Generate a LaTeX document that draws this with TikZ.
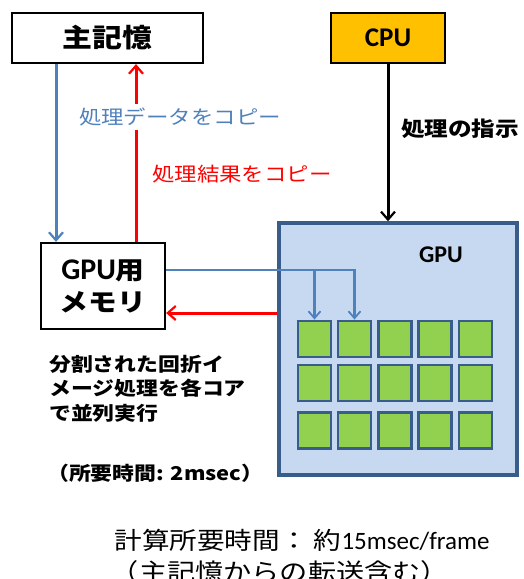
\documentclass[tikz,border=0pt]{standalone}
\usepackage{fontspec}
\setmainfont{Noto Sans CJK JP}[FakeStretch=1.15,Kerning=Off]
\newfontfamily\calfont{Carlito}
\usetikzlibrary{arrows.meta}
\definecolor{obl}{HTML}{4F81BD}
\definecolor{gpuf}{HTML}{C6D9F1}
\definecolor{gpub}{HTML}{385D8A}
\definecolor{corf}{HTML}{92D050}
\definecolor{cpuf}{HTML}{FFC000}
\definecolor{rd}{HTML}{FF0000}
\begin{document}
\begin{tikzpicture}[x=1pt,y=1pt,
  box/.style={draw=black,line width=2.2pt,fill=white,inner sep=0pt},
  core/.style={draw=gpub,line width=2.8pt,fill=corf,minimum width=33pt,minimum height=36pt,inner sep=0pt},
  arr/.style={-{Straight Barb[length=8pt,width=14pt,line width=2.2pt]},line width=3pt},
  thinarr/.style={-{Straight Barb[length=7pt,width=12pt,line width=1.8pt]},line width=2.2pt},
  lbl/.style={inner sep=1pt}
  ]
\useasboundingbox (0,0) rectangle (523,-579);
% boxes
\node[box,minimum width=191pt,minimum height=50pt,font=\fontsize{26}{30}\selectfont\bfseries] (mm) at (107.5,-38) {主記憶};
\node[box,fill=cpuf,minimum width=114pt,minimum height=50pt,font=\fontsize{27}{30}\selectfont\calfont\bfseries] (cpu) at (388,-38) {CPU};
\node[draw=gpub,line width=3.5pt,fill=gpuf,minimum width=238pt,minimum height=252pt,inner sep=0pt] (gpu) at (398,-349) {};
\node[lbl,font=\fontsize{24}{28}\selectfont\calfont\bfseries] (gpulbl) at (441,-255) {GPU};
\node[box,minimum width=124pt,minimum height=86pt,align=center,font=\fontsize{25}{32}\selectfont\bfseries] (gm) at (103,-286)
  {{\calfont\fontsize{30}{32}\selectfont GPU}用\\メモリ};
% cores
\foreach \r/\y in {1/339,2/383,3/430.5}{
  \foreach \c/\x in {1/314.5,2/354.5,3/395,4/435,5/475.5}{
    \node[core] (c\r\c) at (\x,-\y) {};
  }
}
% connectors
\coordinate (xb) at (56,0);
\coordinate (xr) at (136,0);
\coordinate (yb) at (0,-270);
\coordinate (yr) at (0,-313);
\draw[arr,obl] (xb |- mm.south) -- (xb |- gm.north);
\draw[arr,rd] (xr |- gm.north) -- (xr |- mm.south);
\draw[arr,black] (cpu.south) -- (cpu.south |- gpu.north);
\draw[thinarr,obl] (gm.east |- yb) -| (c12.north);
\draw[thinarr,obl] (c11.north |- yb) -- (c11.north);
\draw[arr,rd] (gpu.west |- yr) -- (gm.east |- yr);
% labels
\node[lbl,fill=white,text=obl,inner sep=4pt,font=\fontsize{19.5}{22}\selectfont] (l1) at (180,-117) {処理データをコピー};
\node[lbl,text=rd,font=\fontsize{19.5}{22}\selectfont] (l2) at (242,-174) {処理結果を\kern-0pt コピー};
\node[lbl,anchor=west,font=\fontsize{20.5}{22}\selectfont\bfseries] (l3) at (400,-129) {処理の指示};
\node[lbl,anchor=north west,align=left,font=\fontsize{19}{24.5}\selectfont\bfseries] (l4) at (48,-354)
  {分割された回折イ\\メージ処理を各コア\\で並列実行};
\node[lbl,anchor=west,font=\fontsize{19}{22}\selectfont\bfseries] (l5) at (46,-473) {（所要時間: 2msec）};
\node[lbl,font=\fontsize{24}{26}\selectfont] (l6) at (302,-540) {計算所要時間：\ 約{\calfont\fontsize{25}{26}\selectfont 15msec/frame}};
\node[lbl,font=\fontsize{24.5}{26}\selectfont] (l7) at (280,-572) {（主記憶からの転送含む）};
\end{tikzpicture}
\end{document}
